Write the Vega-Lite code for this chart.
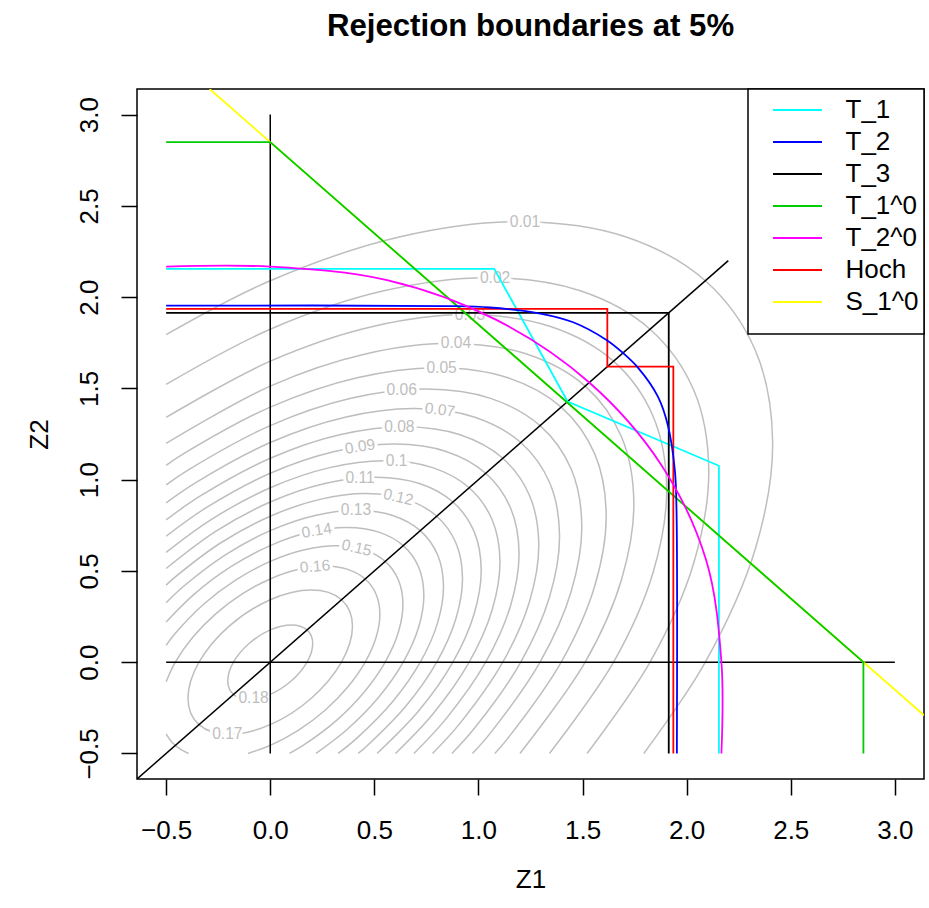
{
  "$schema": "https://vega.github.io/schema/vega-lite/v6.json",
  "width": 787,
  "height": 690,
  "autosize": {"type": "none"},
  "padding": {"left": 137, "top": 89, "right": 5, "bottom": 129},
  "background": "white",
  "title": {"text": "Rejection boundaries at 5%", "font": "Liberation Sans", "fontSize": 31.2, "fontWeight": "bold", "color": "black", "anchor": "middle", "frame": "group", "baseline": "alphabetic", "offset": 21},
  "config": {
    "view": {"stroke": "black", "strokeWidth": 1.5},
    "axis": {"domain": false, "grid": false, "tickColor": "black", "tickWidth": 1.5, "tickSize": 16, "labelFont": "Liberation Sans", "labelFontSize": 26, "labelColor": "black", "titleFont": "Liberation Sans", "titleFontSize": 26, "titleFontWeight": "normal", "titleColor": "black", "labelOverlap": false, "labelFlush": false}
  },
  "datasets": {
    "contours": [
      {"c":"0.01","i":0,"x":1.7943,"y":-0.5},{"c":"0.01","i":1,"x":2.0897,"y":0},{"c":"0.01","i":2,"x":2.3307,"y":0.6245},{"c":"0.01","i":3,"x":2.413,"y":1.2065},{"c":"0.01","i":4,"x":2.3307,"y":1.7062},{"c":"0.01","i":5,"x":2.0897,"y":2.0897},{"c":"0.01","i":6,"x":1.7062,"y":2.3307},{"c":"0.01","i":7,"x":1.2065,"y":2.413},{"c":"0.01","i":8,"x":0.6245,"y":2.3307},{"c":"0.01","i":9,"x":0,"y":2.0897},{"c":"0.01","i":10,"x":-0.5,"y":1.7943},
      {"c":"0.02","i":0,"x":1.5218,"y":-0.5},{"c":"0.02","i":1,"x":1.824,"y":0},{"c":"0.02","i":2,"x":2.0344,"y":0.5451},{"c":"0.02","i":3,"x":2.1062,"y":1.0531},{"c":"0.02","i":4,"x":2.0344,"y":1.4893},{"c":"0.02","i":5,"x":1.824,"y":1.824},{"c":"0.02","i":6,"x":1.4893,"y":2.0344},{"c":"0.02","i":7,"x":1.0531,"y":2.1062},{"c":"0.02","i":8,"x":0.5451,"y":2.0344},{"c":"0.02","i":9,"x":0,"y":1.824},{"c":"0.02","i":10,"x":-0.5,"y":1.5218},
      {"c":"0.03","i":0,"x":1.341,"y":-0.5},{"c":"0.03","i":1,"x":1.6489,"y":0},{"c":"0.03","i":2,"x":1.8391,"y":0.4928},{"c":"0.03","i":3,"x":1.904,"y":0.952},{"c":"0.03","i":4,"x":1.8391,"y":1.3463},{"c":"0.03","i":5,"x":1.6489,"y":1.6489},{"c":"0.03","i":6,"x":1.3463,"y":1.8391},{"c":"0.03","i":7,"x":0.952,"y":1.904},{"c":"0.03","i":8,"x":0.4928,"y":1.8391},{"c":"0.03","i":9,"x":0,"y":1.6489},{"c":"0.03","i":10,"x":-0.5,"y":1.341},
      {"c":"0.04","i":0,"x":1.1991,"y":-0.5},{"c":"0.04","i":1,"x":1.5124,"y":0},{"c":"0.04","i":2,"x":1.6869,"y":0.452},{"c":"0.04","i":3,"x":1.7464,"y":0.8732},{"c":"0.04","i":4,"x":1.6869,"y":1.2349},{"c":"0.04","i":5,"x":1.5124,"y":1.5124},{"c":"0.04","i":6,"x":1.2349,"y":1.6869},{"c":"0.04","i":7,"x":0.8732,"y":1.7464},{"c":"0.04","i":8,"x":0.452,"y":1.6869},{"c":"0.04","i":9,"x":0,"y":1.5124},{"c":"0.04","i":10,"x":-0.5,"y":1.1991},
      {"c":"0.05","i":0,"x":1.0785,"y":-0.5},{"c":"0.05","i":1,"x":1.1409,"y":-0.4176},{"c":"0.05","i":2,"x":1.3973,"y":0},{"c":"0.05","i":3,"x":1.5585,"y":0.4176},{"c":"0.05","i":4,"x":1.6135,"y":0.8068},{"c":"0.05","i":5,"x":1.5585,"y":1.1409},{"c":"0.05","i":6,"x":1.3973,"y":1.3973},{"c":"0.05","i":7,"x":1.1409,"y":1.5585},{"c":"0.05","i":8,"x":0.8068,"y":1.6135},{"c":"0.05","i":9,"x":0.4176,"y":1.5585},{"c":"0.05","i":10,"x":0,"y":1.3973},{"c":"0.05","i":11,"x":-0.4176,"y":1.1409},{"c":"0.05","i":12,"x":-0.5,"y":1.0785},
      {"c":"0.06","i":0,"x":0.9713,"y":-0.5},{"c":"0.06","i":1,"x":1.058,"y":-0.3872},{"c":"0.06","i":2,"x":1.2958,"y":0},{"c":"0.06","i":3,"x":1.4453,"y":0.3872},{"c":"0.06","i":4,"x":1.4963,"y":0.7482},{"c":"0.06","i":5,"x":1.4453,"y":1.058},{"c":"0.06","i":6,"x":1.2958,"y":1.2958},{"c":"0.06","i":7,"x":1.058,"y":1.4453},{"c":"0.06","i":8,"x":0.7482,"y":1.4963},{"c":"0.06","i":9,"x":0.3872,"y":1.4453},{"c":"0.06","i":10,"x":0,"y":1.2958},{"c":"0.06","i":11,"x":-0.3872,"y":1.058},{"c":"0.06","i":12,"x":-0.5,"y":0.9713},
      {"c":"0.07","i":0,"x":0.8727,"y":-0.5},{"c":"0.07","i":1,"x":0.9825,"y":-0.3596},{"c":"0.07","i":2,"x":1.2033,"y":0},{"c":"0.07","i":3,"x":1.3421,"y":0.3596},{"c":"0.07","i":4,"x":1.3895,"y":0.6948},{"c":"0.07","i":5,"x":1.3421,"y":0.9825},{"c":"0.07","i":6,"x":1.2033,"y":1.2033},{"c":"0.07","i":7,"x":0.9825,"y":1.3421},{"c":"0.07","i":8,"x":0.6948,"y":1.3895},{"c":"0.07","i":9,"x":0.3596,"y":1.3421},{"c":"0.07","i":10,"x":0,"y":1.2033},{"c":"0.07","i":11,"x":-0.3596,"y":0.9825},{"c":"0.07","i":12,"x":-0.5,"y":0.8727},
      {"c":"0.08","i":0,"x":0.7795,"y":-0.5},{"c":"0.08","i":1,"x":0.9119,"y":-0.3338},{"c":"0.08","i":2,"x":1.1169,"y":0},{"c":"0.08","i":3,"x":1.2457,"y":0.3338},{"c":"0.08","i":4,"x":1.2897,"y":0.6449},{"c":"0.08","i":5,"x":1.2457,"y":0.9119},{"c":"0.08","i":6,"x":1.1169,"y":1.1169},{"c":"0.08","i":7,"x":0.9119,"y":1.2457},{"c":"0.08","i":8,"x":0.6449,"y":1.2897},{"c":"0.08","i":9,"x":0.3338,"y":1.2457},{"c":"0.08","i":10,"x":0,"y":1.1169},{"c":"0.08","i":11,"x":-0.3338,"y":0.9119},{"c":"0.08","i":12,"x":-0.5,"y":0.7795},
      {"c":"0.09","i":0,"x":0.6899,"y":-0.5},{"c":"0.09","i":1,"x":0.8449,"y":-0.3092},{"c":"0.09","i":2,"x":1.0348,"y":0},{"c":"0.09","i":3,"x":1.1542,"y":0.3092},{"c":"0.09","i":4,"x":1.1949,"y":0.5975},{"c":"0.09","i":5,"x":1.1542,"y":0.8449},{"c":"0.09","i":6,"x":1.0348,"y":1.0348},{"c":"0.09","i":7,"x":0.8449,"y":1.1542},{"c":"0.09","i":8,"x":0.5975,"y":1.1949},{"c":"0.09","i":9,"x":0.3092,"y":1.1542},{"c":"0.09","i":10,"x":0,"y":1.0348},{"c":"0.09","i":11,"x":-0.3092,"y":0.8449},{"c":"0.09","i":12,"x":-0.5,"y":0.6899},
      {"c":"0.10","i":0,"x":0.6017,"y":-0.5},{"c":"0.10","i":1,"x":0.7801,"y":-0.2855},{"c":"0.10","i":2,"x":0.9555,"y":0},{"c":"0.10","i":3,"x":1.0657,"y":0.2855},{"c":"0.10","i":4,"x":1.1033,"y":0.5517},{"c":"0.10","i":5,"x":1.0657,"y":0.7801},{"c":"0.10","i":6,"x":0.9555,"y":0.9555},{"c":"0.10","i":7,"x":0.7801,"y":1.0657},{"c":"0.10","i":8,"x":0.5517,"y":1.1033},{"c":"0.10","i":9,"x":0.2855,"y":1.0657},{"c":"0.10","i":10,"x":0,"y":0.9555},{"c":"0.10","i":11,"x":-0.2855,"y":0.7801},{"c":"0.10","i":12,"x":-0.5,"y":0.6017},
      {"c":"0.11","i":0,"x":0.5132,"y":-0.5},{"c":"0.11","i":1,"x":0.7164,"y":-0.2622},{"c":"0.11","i":2,"x":0.8774,"y":0},{"c":"0.11","i":3,"x":0.9787,"y":0.2622},{"c":"0.11","i":4,"x":1.0132,"y":0.5066},{"c":"0.11","i":5,"x":0.9787,"y":0.7164},{"c":"0.11","i":6,"x":0.8774,"y":0.8774},{"c":"0.11","i":7,"x":0.7164,"y":0.9787},{"c":"0.11","i":8,"x":0.5066,"y":1.0132},{"c":"0.11","i":9,"x":0.2622,"y":0.9787},{"c":"0.11","i":10,"x":0,"y":0.8774},{"c":"0.11","i":11,"x":-0.2622,"y":0.7164},{"c":"0.11","i":12,"x":-0.5,"y":0.5132},
      {"c":"0.12","i":0,"x":0.4223,"y":-0.5},{"c":"0.12","i":1,"x":0.4617,"y":-0.4617},{"c":"0.12","i":2,"x":0.6529,"y":-0.239},{"c":"0.12","i":3,"x":0.7997,"y":0},{"c":"0.12","i":4,"x":0.8919,"y":0.239},{"c":"0.12","i":5,"x":0.9234,"y":0.4617},{"c":"0.12","i":6,"x":0.8919,"y":0.6529},{"c":"0.12","i":7,"x":0.7997,"y":0.7997},{"c":"0.12","i":8,"x":0.6529,"y":0.8919},{"c":"0.12","i":9,"x":0.4617,"y":0.9234},{"c":"0.12","i":10,"x":0.239,"y":0.8919},{"c":"0.12","i":11,"x":0,"y":0.7997},{"c":"0.12","i":12,"x":-0.239,"y":0.6529},{"c":"0.12","i":13,"x":-0.4617,"y":0.4617},{"c":"0.12","i":14,"x":-0.5,"y":0.4223},
      {"c":"0.13","i":0,"x":0.326,"y":-0.5},{"c":"0.13","i":1,"x":0.4161,"y":-0.4161},{"c":"0.13","i":2,"x":0.5884,"y":-0.2153},{"c":"0.13","i":3,"x":0.7206,"y":0},{"c":"0.13","i":4,"x":0.8037,"y":0.2153},{"c":"0.13","i":5,"x":0.8321,"y":0.4161},{"c":"0.13","i":6,"x":0.8037,"y":0.5884},{"c":"0.13","i":7,"x":0.7206,"y":0.7206},{"c":"0.13","i":8,"x":0.5884,"y":0.8037},{"c":"0.13","i":9,"x":0.4161,"y":0.8321},{"c":"0.13","i":10,"x":0.2153,"y":0.8037},{"c":"0.13","i":11,"x":0,"y":0.7206},{"c":"0.13","i":12,"x":-0.2153,"y":0.5884},{"c":"0.13","i":13,"x":-0.4161,"y":0.4161},{"c":"0.13","i":14,"x":-0.5,"y":0.326},
      {"c":"0.14","i":0,"x":0.2197,"y":-0.5},{"c":"0.14","i":1,"x":0.3689,"y":-0.3689},{"c":"0.14","i":2,"x":0.5216,"y":-0.1909},{"c":"0.14","i":3,"x":0.6388,"y":0},{"c":"0.14","i":4,"x":0.7126,"y":0.1909},{"c":"0.14","i":5,"x":0.7377,"y":0.3689},{"c":"0.14","i":6,"x":0.7126,"y":0.5216},{"c":"0.14","i":7,"x":0.6388,"y":0.6388},{"c":"0.14","i":8,"x":0.5216,"y":0.7126},{"c":"0.14","i":9,"x":0.3689,"y":0.7377},{"c":"0.14","i":10,"x":0.1909,"y":0.7126},{"c":"0.14","i":11,"x":0,"y":0.6388},{"c":"0.14","i":12,"x":-0.1909,"y":0.5216},{"c":"0.14","i":13,"x":-0.3689,"y":0.3689},{"c":"0.14","i":14,"x":-0.5,"y":0.2197},
      {"c":"0.15","i":0,"x":0.0923,"y":-0.5},{"c":"0.15","i":1,"x":0.1649,"y":-0.4506},{"c":"0.15","i":2,"x":0.3187,"y":-0.3187},{"c":"0.15","i":3,"x":0.4506,"y":-0.1649},{"c":"0.15","i":4,"x":0.5519,"y":0},{"c":"0.15","i":5,"x":0.6156,"y":0.1649},{"c":"0.15","i":6,"x":0.6373,"y":0.3187},{"c":"0.15","i":7,"x":0.6156,"y":0.4506},{"c":"0.15","i":8,"x":0.5519,"y":0.5519},{"c":"0.15","i":9,"x":0.4506,"y":0.6156},{"c":"0.15","i":10,"x":0.3187,"y":0.6373},{"c":"0.15","i":11,"x":0.1649,"y":0.6156},{"c":"0.15","i":12,"x":0,"y":0.5519},{"c":"0.15","i":13,"x":-0.1649,"y":0.4506},{"c":"0.15","i":14,"x":-0.3187,"y":0.3187},{"c":"0.15","i":15,"x":-0.4506,"y":0.1649},{"c":"0.15","i":16,"x":-0.5,"y":0.0923},
      {"c":"0.16","i":0,"x":-0.1072,"y":-0.5},{"c":"0.16","i":1,"x":0,"y":-0.4559},{"c":"0.16","i":2,"x":0.1363,"y":-0.3723},{"c":"0.16","i":3,"x":0.2633,"y":-0.2633},{"c":"0.16","i":4,"x":0.3723,"y":-0.1363},{"c":"0.16","i":5,"x":0.4559,"y":0},{"c":"0.16","i":6,"x":0.5085,"y":0.1363},{"c":"0.16","i":7,"x":0.5265,"y":0.2633},{"c":"0.16","i":8,"x":0.5085,"y":0.3723},{"c":"0.16","i":9,"x":0.4559,"y":0.4559},{"c":"0.16","i":10,"x":0.3723,"y":0.5085},{"c":"0.16","i":11,"x":0.2633,"y":0.5265},{"c":"0.16","i":12,"x":0.1363,"y":0.5085},{"c":"0.16","i":13,"x":0,"y":0.4559},{"c":"0.16","i":14,"x":-0.1363,"y":0.3723},{"c":"0.16","i":15,"x":-0.2633,"y":0.2633},{"c":"0.16","i":16,"x":-0.3723,"y":0.1363},{"c":"0.16","i":17,"x":-0.4559,"y":0},{"c":"0.16","i":18,"x":-0.5,"y":-0.1072},
      {"c":"0.16s","i":0,"x":-0.5,"y":-0.3928},{"c":"0.16s","i":1,"x":-0.481,"y":-0.426},{"c":"0.16s","i":2,"x":-0.456,"y":-0.456},{"c":"0.16s","i":3,"x":-0.426,"y":-0.481},{"c":"0.16s","i":4,"x":-0.3928,"y":-0.5}
    ],
    "ellipses": [
      {"c":"0.17","i":0,"x":0.395,"y":0.1975},{"c":"0.17","i":1,"x":0.3421,"y":0.3421},{"c":"0.17","i":2,"x":0.1975,"y":0.395},{"c":"0.17","i":3,"x":0,"y":0.3421},{"c":"0.17","i":4,"x":-0.1975,"y":0.1975},{"c":"0.17","i":5,"x":-0.3421,"y":0},{"c":"0.17","i":6,"x":-0.395,"y":-0.1975},{"c":"0.17","i":7,"x":-0.3421,"y":-0.3421},{"c":"0.17","i":8,"x":-0.1975,"y":-0.395},{"c":"0.17","i":9,"x":0,"y":-0.3421},{"c":"0.17","i":10,"x":0.1975,"y":-0.1975},{"c":"0.17","i":11,"x":0.3421,"y":0},
      {"c":"0.18","i":0,"x":0.204,"y":0.102},{"c":"0.18","i":1,"x":0.1767,"y":0.1767},{"c":"0.18","i":2,"x":0.102,"y":0.204},{"c":"0.18","i":3,"x":0,"y":0.1767},{"c":"0.18","i":4,"x":-0.102,"y":0.102},{"c":"0.18","i":5,"x":-0.1767,"y":0},{"c":"0.18","i":6,"x":-0.204,"y":-0.102},{"c":"0.18","i":7,"x":-0.1767,"y":-0.1767},{"c":"0.18","i":8,"x":-0.102,"y":-0.204},{"c":"0.18","i":9,"x":0,"y":-0.1767},{"c":"0.18","i":10,"x":0.102,"y":-0.102},{"c":"0.18","i":11,"x":0.1767,"y":0}
    ],
    "labels": [
      {"lab":"0.01","x":1.223,"y":2.413},{"lab":"0.02","x":1.08,"y":2.106},{"lab":"0.03","x":0.959,"y":1.904},{"lab":"0.04","x":0.892,"y":1.746},{"lab":"0.05","x":0.823,"y":1.613},{"lab":"0.06","x":0.631,"y":1.491},{"lab":"0.07","x":0.815,"y":1.382},{"lab":"0.08","x":0.62,"y":1.29},{"lab":"0.09","x":0.431,"y":1.181},{"lab":"0.1","x":0.607,"y":1.101},{"lab":"0.11","x":0.431,"y":1.01},{"lab":"0.12","x":0.615,"y":0.904},{"lab":"0.13","x":0.412,"y":0.832},{"lab":"0.14","x":0.223,"y":0.721},{"lab":"0.15","x":0.415,"y":0.626},{"lab":"0.16","x":0.215,"y":0.524},{"lab":"0.17","x":-0.206,"y":-0.395},{"lab":"0.18","x":-0.08,"y":-0.195}
    ],
    "refs": [
      {"seg":"v","i":0,"x":0,"y":-0.5},{"seg":"v","i":1,"x":0,"y":3},
      {"seg":"h","i":0,"x":-0.5,"y":0},{"seg":"h","i":1,"x":3,"y":0},
      {"seg":"d","i":0,"x":-0.64,"y":-0.64},{"seg":"d","i":1,"x":2.2,"y":2.2}
    ],
    "bounds": [
      {"test":"S_1^0","i":0,"x":-0.291,"y":3.14},{"test":"S_1^0","i":1,"x":3.14,"y":-0.291},
      {"test":"T_1","i":0,"x":-0.5,"y":2.155},{"test":"T_1","i":1,"x":1.076,"y":2.155},{"test":"T_1","i":2,"x":1.428,"y":1.428},{"test":"T_1","i":3,"x":2.155,"y":1.076},{"test":"T_1","i":4,"x":2.155,"y":-0.5},
      {"test":"T_3","i":0,"x":-0.5,"y":1.914},{"test":"T_3","i":1,"x":1.914,"y":1.914},{"test":"T_3","i":2,"x":1.914,"y":-0.5},
      {"test":"T_1^0","i":0,"x":-0.5,"y":2.849},{"test":"T_1^0","i":1,"x":0,"y":2.849},{"test":"T_1^0","i":2,"x":2.849,"y":0},{"test":"T_1^0","i":3,"x":2.849,"y":-0.5},
      {"test":"Hoch","i":0,"x":-0.5,"y":1.936},{"test":"Hoch","i":1,"x":1.619,"y":1.936},{"test":"Hoch","i":2,"x":1.619,"y":1.619},{"test":"Hoch","i":3,"x":1.936,"y":1.619},{"test":"Hoch","i":4,"x":1.936,"y":-0.5}
    ],
    "curves": [
      {"test":"T_2","i":0,"x":-0.5,"y":1.953},{"test":"T_2","i":1,"x":0.85,"y":1.951},{"test":"T_2","i":2,"x":1.055,"y":1.943},{"test":"T_2","i":3,"x":1.297,"y":1.91},{"test":"T_2","i":4,"x":1.455,"y":1.862},{"test":"T_2","i":5,"x":1.615,"y":1.765},{"test":"T_2","i":6,"x":1.694,"y":1.694},{"test":"T_2","i":7,"x":1.765,"y":1.615},{"test":"T_2","i":8,"x":1.862,"y":1.455},{"test":"T_2","i":9,"x":1.91,"y":1.297},{"test":"T_2","i":10,"x":1.943,"y":1.055},{"test":"T_2","i":11,"x":1.951,"y":0.85},{"test":"T_2","i":12,"x":1.953,"y":-0.5},
      {"test":"T_2^0","i":0,"x":-0.5,"y":2.167},{"test":"T_2^0","i":1,"x":0,"y":2.167},{"test":"T_2^0","i":2,"x":0.5608,"y":2.0931},{"test":"T_2^0","i":3,"x":1.0835,"y":1.8767},{"test":"T_2^0","i":4,"x":1.5323,"y":1.5323},{"test":"T_2^0","i":5,"x":1.8767,"y":1.0835},{"test":"T_2^0","i":6,"x":2.0931,"y":0.5608},{"test":"T_2^0","i":7,"x":2.167,"y":0},{"test":"T_2^0","i":8,"x":2.167,"y":-0.5}
    ]
  },
  "encoding": {
    "x": {"field": "x", "type": "quantitative", "scale": {"domain": [-0.64, 3.14], "nice": false, "zero": false},
      "axis": {"title": "Z1", "values": [-0.5, 0, 0.5, 1, 1.5, 2, 2.5, 3], "format": ".1f", "labelPadding": 22.5, "labelBaseline": "top", "labelAlign": "center", "titleX": 393.5, "titleY": 108, "titleBaseline": "alphabetic", "titleAlign": "center"}},
    "y": {"field": "y", "type": "quantitative", "scale": {"domain": [-0.64, 3.14], "nice": false, "zero": false},
      "axis": {"title": "Z2", "values": [-0.5, 0, 0.5, 1, 1.5, 2, 2.5, 3], "format": ".1f", "labelAngle": 270, "labelAlign": "center", "labelBaseline": "bottom", "labelPadding": 18.3, "titleAngle": 270, "titleX": -90, "titleY": 345, "titleBaseline": "alphabetic", "titleAlign": "center"}}
  },
  "layer": [
    {"data": {"name": "contours"}, "mark": {"type": "line", "interpolate": "catmull-rom", "stroke": "#BEBEBE", "strokeWidth": 1.5},
     "encoding": {"detail": {"field": "c", "type": "nominal"}, "order": {"field": "i", "type": "quantitative"}}},
    {"data": {"name": "ellipses"}, "mark": {"type": "line", "interpolate": "cardinal-closed", "stroke": "#BEBEBE", "strokeWidth": 1.5},
     "encoding": {"detail": {"field": "c", "type": "nominal"}, "order": {"field": "i", "type": "quantitative"}}},
    {"data": {"name": "labels"}, "mark": {"type": "text", "font": "Liberation Sans", "fontSize": 15.6, "fill": "white", "stroke": "white", "strokeWidth": 6, "align": "center", "baseline": "middle"},
     "encoding": {"text": {"field": "lab", "type": "nominal"},
       "angle": {"condition": [{"test": "datum.lab === '0.12' || datum.lab === '0.15'", "value": 13}, {"test": "datum.lab === '0.07'", "value": 7}, {"test": "datum.lab === '0.09' || datum.lab === '0.14'", "value": -9}, {"test": "datum.lab === '0.16'", "value": -5}], "value": 0}}},
    {"data": {"name": "labels"}, "mark": {"type": "text", "font": "Liberation Sans", "fontSize": 15.6, "fill": "#BEBEBE", "align": "center", "baseline": "middle"},
     "encoding": {"text": {"field": "lab", "type": "nominal"},
       "angle": {"condition": [{"test": "datum.lab === '0.12' || datum.lab === '0.15'", "value": 13}, {"test": "datum.lab === '0.07'", "value": 7}, {"test": "datum.lab === '0.09' || datum.lab === '0.14'", "value": -9}, {"test": "datum.lab === '0.16'", "value": -5}], "value": 0}}},
    {"data": {"name": "refs"}, "mark": {"type": "line", "stroke": "black", "strokeWidth": 1.5, "clip": true},
     "encoding": {"detail": {"field": "seg", "type": "nominal"}, "order": {"field": "i", "type": "quantitative"}}},
    {"data": {"name": "bounds"}, "transform": [{"filter": "datum.test === 'S_1^0'"}],
     "mark": {"type": "line", "strokeWidth": 1.8, "clip": true},
     "encoding": {"order": {"field": "i", "type": "quantitative"},
       "color": {"field": "test", "type": "nominal",
         "scale": {"domain": ["T_1", "T_2", "T_3", "T_1^0", "T_2^0", "Hoch", "S_1^0"], "range": ["#00FFFF", "#0000FF", "#000000", "#00CD00", "#FF00FF", "#FF0000", "#FFFF00"]},
         "legend": {"title": " ", "titleOrient": "bottom", "titleFontSize": 12, "titlePadding": 3, "orient": "top-right", "offset": 0, "padding": 5, "fillColor": "white", "strokeColor": "black", "symbolType": "M-1.633,0H1.633", "symbolSize": 900, "symbolStrokeWidth": 1.8, "symbolOffset": 28.5, "labelOffset": 32, "labelFont": "Liberation Sans", "labelFontSize": 26, "labelColor": "black", "rowPadding": 3, "labelLimit": 0,
           "encode": {"legend": {"update": {"strokeWidth": {"value": 1.5}}}}}}}},
    {"data": {"name": "bounds"}, "transform": [{"filter": "datum.test !== 'S_1^0'"}],
     "mark": {"type": "line", "strokeWidth": 1.8},
     "encoding": {"order": {"field": "i", "type": "quantitative"},
       "color": {"field": "test", "type": "nominal",
         "scale": {"domain": ["T_1", "T_2", "T_3", "T_1^0", "T_2^0", "Hoch", "S_1^0"], "range": ["#00FFFF", "#0000FF", "#000000", "#00CD00", "#FF00FF", "#FF0000", "#FFFF00"]}}}},
    {"data": {"name": "curves"},
     "mark": {"type": "line", "interpolate": "catmull-rom", "strokeWidth": 1.8},
     "encoding": {"order": {"field": "i", "type": "quantitative"},
       "color": {"field": "test", "type": "nominal",
         "scale": {"domain": ["T_1", "T_2", "T_3", "T_1^0", "T_2^0", "Hoch", "S_1^0"], "range": ["#00FFFF", "#0000FF", "#000000", "#00CD00", "#FF00FF", "#FF0000", "#FFFF00"]}}}}
  ]
}
